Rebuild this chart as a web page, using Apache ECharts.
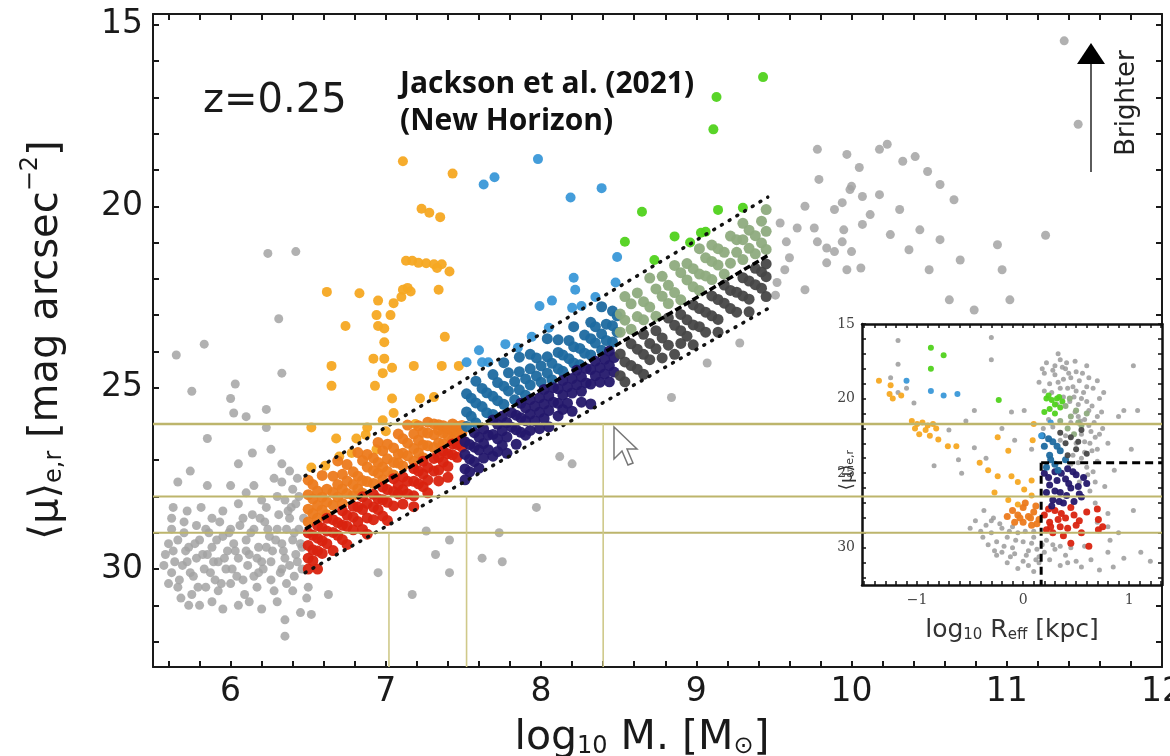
<!DOCTYPE html>
<html><head><meta charset="utf-8">
<script src="https://cdn.jsdelivr.net/npm/echarts@6/dist/echarts.min.js"></script>
<style>html,body{margin:0;padding:0;background:#fff}#c{width:1170px;height:756px}</style>
</head><body><div id="c"></div>
<script>
// ---------- tick labels ----------
const xTickLabels = [6, 7, 8, 9, 10, 11, 12];
const yTickLabels = [15, 20, 25, 30];
const insetXTickLabels = [-1, 0, 1];
const insetYTickLabels = [15, 20, 25, 30];

// ---------- main panel data [log10 M*, <mu>e,r] ----------
const grayMain = [
 [5.62,28.9],[5.70,29.0],[5.78,28.8],[5.86,29.0],[5.93,28.7],[6.00,28.9],[6.08,28.6],[6.15,28.9],[6.22,28.7],[6.30,28.9],[6.38,28.6],[6.44,28.9],
 [5.60,29.3],[5.66,29.2],[5.73,29.4],[5.80,29.2],[5.88,29.4],[5.95,29.1],[6.02,29.3],[6.10,29.2],[6.18,29.4],[6.25,29.1],[6.33,29.3],[6.40,29.2],[6.46,29.4],
 [5.58,29.6],[5.64,29.8],[5.71,29.5],[5.78,29.7],[5.85,29.6],[5.92,29.8],[5.98,29.5],[6.05,29.7],[6.12,29.6],[6.20,29.8],[6.27,29.5],[6.35,29.7],[6.42,29.6],
 [5.62,30.1],[5.69,29.9],[5.76,30.2],[5.83,30.0],[5.90,30.3],[5.97,30.0],[6.04,30.2],[6.11,29.9],[6.18,30.1],[6.26,30.3],[6.33,30.0],[6.41,30.2],
 [5.66,30.5],[5.75,30.7],[5.84,30.5],[5.92,30.6],[6.00,30.4],[6.09,30.7],[6.17,30.5],[6.28,30.6],[6.36,30.4],
 [5.73,31.0],[5.95,31.1],[6.05,31.0],[6.35,31.4],[6.45,31.2],[6.35,31.85],[6.52,31.25],
 [5.57,29.9],[5.60,30.4],[5.63,29.5],[5.67,30.3],[5.70,28.7],[5.72,29.8],[5.74,30.1],[5.77,29.3],[5.79,30.5],[5.82,29.6],[5.84,28.9],[5.87,30.1],
 [5.89,29.8],[5.91,29.2],[5.94,30.4],[5.96,29.7],[5.99,29.0],[6.01,30.0],[6.03,29.5],[6.06,28.8],[6.08,30.3],[6.10,29.5],[6.13,29.0],[6.15,30.2],
 [6.17,29.7],[6.19,28.6],[6.21,30.0],[6.23,29.4],[6.24,28.9],[6.26,29.8],[6.29,29.2],[6.31,28.5],[6.32,30.1],[6.34,29.5],[6.36,28.9],[6.38,29.9],
 [6.39,28.3],[6.41,29.0],[6.43,29.8],[6.44,28.0],[6.45,29.3],[6.47,28.6],[6.46,30.0],[6.40,30.6],[6.30,30.9],[6.20,31.1],[6.12,30.9],[5.88,30.9],
 [5.80,31.0],[5.68,30.8],[5.62,28.6],[5.72,28.4],[6.38,27.3],[6.43,27.5],[6.35,28.1],
 [5.63,28.3],[5.81,28.3],[5.88,28.6],[6.14,28.5],[6.23,28.3],[6.37,28.4],[6.42,28.2],[6.30,28.0],[6.20,28.1],[6.05,28.2],[5.95,28.4],[6.10,27.9],[6.33,27.6],
 [5.75,25.1],[6.03,24.9],[6.00,25.3],[6.02,25.7],[6.10,25.8],[6.23,25.6],[5.85,26.4],[6.23,26.1],[6.14,26.8],[6.26,26.7],[6.05,27.1],[5.74,27.3],[6.33,27.1],
 [5.66,27.6],[5.85,27.7],[6.00,27.7],[6.15,27.7],[6.28,27.5],[6.40,27.8],[5.65,24.1],[5.83,23.8],[6.24,21.3],[6.42,21.25],[6.31,23.1],[6.33,24.6],
 [7.26,28.95],[7.97,28.3],[7.73,29.0],[8.20,27.1],[8.12,26.9],[7.41,29.2],[7.32,29.6],[7.41,30.1],[7.62,29.7],[7.75,29.8],[6.95,30.1],[7.17,30.7],
 [6.63,30.7],[6.50,30.5],[6.49,30.8],[8.84,25.27],[9.07,24.32],[9.28,23.77],
 [9.70,20.0],[9.54,20.46],[9.58,20.98],[9.65,20.6],[9.76,20.6],[9.78,20.98],[9.84,21.15],[9.89,21.25],[9.94,19.9],[10.0,19.45],[10.07,19.73],[10.07,20.5],
 [9.94,20.98],[10.0,21.25],[9.97,21.75],[9.84,21.56],[10.06,21.7],[9.60,21.42],[9.57,21.75],[9.52,22.1],[9.51,22.45],[9.70,22.3],
 [9.78,18.43],[9.97,18.57],[10.05,18.93],[10.18,18.43],[10.23,18.29],[10.33,18.76],[10.41,18.63],[10.49,19.04],[10.57,19.4],[10.66,19.82],[10.18,19.68],
 [10.31,20.09],[10.44,20.65],[10.57,20.92],[10.70,21.48],[9.99,19.54],[10.12,20.23],[10.25,20.78],[10.37,21.2],[10.50,21.75],[9.95,20.65],[9.79,19.26],
 [9.89,20.09],[10.94,21.06],[10.97,21.75],[11.25,20.8],[10.63,22.58],[10.79,22.86],[11.02,22.58],[11.37,15.44],[11.46,17.74]
];
const lightOrange = [
 [7.11,18.76],[7.43,19.1],[7.23,20.07],[7.28,20.18],[7.35,20.3],[7.13,21.5],[7.17,21.5],[7.21,21.56],[7.26,21.57],[7.31,21.6],[7.36,21.6],[7.41,21.8],
 [7.33,21.7],[6.62,22.36],[6.83,22.4],[6.95,22.6],[7.05,22.67],[7.10,22.5],[7.14,22.25],[7.16,22.35],[7.11,22.3],[7.34,22.3],[6.94,23.0],[7.03,23.0],
 [6.74,23.3],[6.95,23.3],[6.99,23.37],[6.99,23.75],[7.38,23.6],[6.65,24.4],[6.92,24.2],[6.99,24.2],[7.04,24.45],[6.98,24.6],[7.18,24.4],[7.36,24.4],
 [7.47,24.4],[6.65,24.95],[6.93,24.95],[7.04,25.3],[7.22,25.3],[7.31,25.26],[7.05,25.7],[6.98,25.9],[6.52,26.1],[6.88,26.1],[7.00,26.2],[7.19,26.0],
 [6.68,26.4],[6.81,26.4],[6.87,26.3],[6.70,26.9],[6.78,26.8],[6.94,26.7],[6.52,27.2],[6.61,27.15]
];
const orange = [
 [6.50,28.70],[6.50,28.35],[6.50,27.95],[6.50,27.55],[6.53,28.47],[6.53,28.07],[6.53,27.67],[6.56,28.60],[6.56,28.25],[6.56,27.85],
 [6.59,28.37],[6.59,28.02],[6.59,27.42],[6.62,28.50],[6.62,28.15],[6.62,27.80],[6.66,28.24],[6.66,27.89],[6.66,27.44],
 [6.69,28.02],[6.69,27.67],[6.69,27.02],[6.72,28.19],[6.72,27.79],[6.72,27.39],[6.75,27.92],[6.75,27.57],[6.75,27.12],
 [6.79,27.97],[6.79,27.67],[6.79,27.32],[6.82,27.79],[6.82,27.44],[6.82,26.79],[6.85,27.91],[6.85,27.56],[6.85,27.01],
 [6.88,27.59],[6.88,27.19],[6.88,26.84],[6.92,27.64],[6.92,27.29],[6.92,26.94],[6.95,27.36],[6.95,27.06],[6.95,26.51],
 [6.98,27.54],[6.98,27.19],[6.98,26.74],[7.01,27.31],[7.01,26.96],[7.01,26.56],[7.05,27.41],[7.05,27.06],[7.05,26.66],
 [7.08,27.08],[7.08,26.83],[7.08,26.28],[7.11,27.16],[7.11,26.81],[7.11,26.41],[7.14,26.88],[7.14,26.53],[7.14,26.03],
 [7.18,27.03],[7.18,26.68],[7.18,26.28],[7.21,26.80],[7.21,26.45],[7.21,26.05],[7.24,26.93],[7.24,26.58],[7.24,26.23],
 [7.27,26.60],[7.27,26.25],[7.27,25.95],[7.31,26.65],[7.31,26.30],[7.31,26.00],[7.34,26.52],[7.34,26.17],[7.34,26.02],
 [7.37,26.55],[7.37,26.25],[7.37,26.05],[7.40,26.32],[7.40,26.12],[7.43,26.45],[7.43,26.20],[7.43,26.00],[7.46,26.27],[7.46,26.07],
 [7.49,26.24],[7.49,26.04]
];
const red = [
 [6.50,29.00],[6.50,29.35],[6.50,29.70],[6.50,30.00],[6.53,29.07],[6.53,29.47],[6.53,29.77],[6.56,28.80],[6.56,29.15],[6.56,29.50],[6.56,30.00],
 [6.59,28.87],[6.59,29.22],[6.59,29.57],[6.62,28.60],[6.62,28.95],[6.62,29.30],[6.66,28.64],[6.66,28.99],[6.66,29.49],[6.69,28.72],[6.69,29.07],
 [6.72,28.39],[6.72,28.79],[6.72,29.19],[6.75,28.52],[6.75,28.82],[6.75,29.32],[6.79,28.27],[6.79,28.57],[6.79,28.92],[6.82,28.29],[6.82,28.69],
 [6.85,28.01],[6.85,28.36],[6.85,28.91],[6.88,28.19],[6.88,28.59],[6.88,29.04],[6.92,27.94],[6.92,28.29],[6.92,28.64],[6.95,28.06],[6.95,28.36],
 [6.98,27.74],[6.98,28.09],[6.98,28.54],[7.01,27.81],[7.01,28.16],[7.01,28.66],[7.05,27.51],[7.05,27.86],[7.05,28.26],[7.08,27.68],[7.08,27.93],
 [7.11,27.46],[7.11,27.81],[7.11,28.21],[7.14,27.58],[7.14,27.93],[7.18,27.23],[7.18,27.58],[7.18,27.98],[7.18,28.28],[7.21,27.30],[7.21,27.65],
 [7.24,27.03],[7.24,27.38],[7.24,27.73],[7.27,27.20],[7.27,27.55],[7.27,27.90],[7.31,26.95],[7.31,27.30],[7.34,26.92],[7.34,27.27],[7.34,27.57],
 [7.37,26.75],[7.37,27.05],[7.40,26.82],[7.40,27.17],[7.40,27.47],[7.43,26.55],[7.43,26.85],[7.46,26.57],[7.46,26.92],[7.49,26.44],[7.49,26.64]
];
const lightBlue = [
 [7.63,19.4],[7.70,19.2],[7.98,18.7],[8.39,19.5],[8.19,19.76],[8.49,21.4],[8.21,21.97],[8.22,22.3],[8.48,22.1],[7.99,22.75],[8.07,22.6],[8.20,22.8],
 [8.26,22.75],[7.94,23.6],[8.05,23.35],[7.77,23.8],[7.60,23.97],[7.62,24.3],[7.66,24.3],[7.52,24.3],[7.85,23.9],[8.35,22.5]
];
const darkBlue = [
 [7.52,26.07],[7.52,25.67],[7.52,25.17],[7.55,25.79],[7.55,25.29],[7.58,25.97],[7.58,25.42],[7.58,24.82],[7.62,25.52],[7.62,25.02],
 [7.65,25.69],[7.65,25.14],[7.69,25.74],[7.69,25.24],[7.69,24.64],[7.72,25.36],[7.72,24.86],[7.76,25.46],[7.76,24.96],[7.76,24.31],
 [7.79,25.09],[7.79,24.59],[7.83,25.33],[7.83,24.83],[7.86,25.06],[7.86,24.56],[7.86,24.16],[7.90,25.21],[7.90,24.76],[7.93,24.93],
 [7.93,24.48],[7.93,24.08],[7.97,24.68],[7.97,24.18],[8.00,24.85],[8.00,24.40],[8.04,24.60],[8.04,24.15],[8.04,23.65],[8.07,24.78],
 [8.07,24.33],[8.11,24.48],[8.11,24.03],[8.11,23.68],[8.14,24.55],[8.14,24.10],[8.18,24.20],[8.18,23.70],[8.21,24.32],[8.21,23.87],
 [8.21,23.32],[8.25,24.37],[8.25,23.92],[8.28,24.05],[8.28,23.55],[8.32,24.10],[8.32,23.65],[8.32,23.20],[8.35,23.77],[8.35,23.32],
 [8.39,23.97],[8.39,23.52],[8.39,22.77],[8.42,23.70],[8.42,23.25],[8.46,23.74],[8.46,23.29],[8.46,22.89],[8.49,23.47],[8.49,23.02]
];
const navy = [
 [7.51,26.49],[7.51,26.84],[7.51,27.24],[7.51,27.54],[7.54,26.57],[7.54,26.97],[7.54,27.32],[7.57,26.24],[7.57,26.64],[7.57,27.04],
 [7.60,26.37],[7.60,26.72],[7.60,27.22],[7.63,26.14],[7.63,26.54],[7.63,26.94],[7.66,26.31],[7.66,26.71],[7.69,25.89],[7.69,26.29],[7.69,26.89],
 [7.72,26.01],[7.72,26.41],[7.72,26.76],[7.75,25.79],[7.75,26.19],[7.75,26.59],[7.78,25.96],[7.78,26.36],[7.78,26.81],[7.81,25.69],[7.81,26.09],
 [7.84,25.76],[7.84,26.16],[7.84,26.56],[7.87,25.43],[7.87,25.83],[7.87,26.23],[7.90,25.56],[7.90,25.91],[7.90,26.31],[7.93,25.33],[7.93,25.73],
 [7.93,26.18],[7.96,25.51],[7.96,25.91],[7.99,25.28],[7.99,25.68],[7.99,26.13],[8.02,25.05],[8.02,25.45],[8.02,25.85],[8.05,25.23],[8.05,25.63],
 [8.05,26.08],[8.08,25.00],[8.08,25.40],[8.11,25.03],[8.11,25.43],[8.11,25.78],[8.14,24.80],[8.14,25.20],[8.14,25.60],[8.17,24.98],[8.17,25.43],
 [8.20,24.75],[8.20,25.15],[8.20,25.65],[8.23,24.52],[8.23,24.92],[8.26,24.70],[8.26,25.10],[8.26,25.40],[8.29,24.47],[8.29,24.87],[8.32,24.50],
 [8.32,24.90],[8.32,25.45],[8.35,24.27],[8.35,24.67],[8.38,24.45],[8.38,24.85],[8.41,24.22],[8.41,24.62],[8.44,23.99],[8.44,24.39],[8.44,24.84],
 [8.47,24.17],[8.47,24.57]
];
const green = [
 [9.43,16.44],[9.13,16.99],[9.11,17.88],[8.65,20.15],[9.14,20.1],[9.30,20.04],[8.54,20.98],[8.86,20.83],[9.03,20.73],[9.06,20.7],[8.96,21.0],[8.73,21.48]
];
const sage = [
 [8.51,23.47],[8.51,22.97],[8.54,23.14],[8.54,22.49],[8.58,23.39],[8.58,22.69],[8.62,23.04],[8.62,22.39],[8.66,23.13],[8.66,22.63],
 [8.70,22.78],[8.70,21.98],[8.74,23.03],[8.74,22.28],[8.78,22.48],[8.78,21.93],[8.82,22.68],[8.82,22.18],[8.86,22.38],[8.86,21.63],
 [8.90,22.58],[8.90,21.83],[8.94,22.03],[8.94,21.58],[8.98,22.22],[8.98,21.72],[9.02,22.32],[9.02,21.87],[9.02,21.17],[9.06,21.92],
 [9.06,21.42],[9.10,22.02],[9.10,21.52],[9.10,21.07],[9.14,21.62],[9.14,21.17],[9.18,21.87],[9.18,21.27],[9.22,21.57],[9.22,20.82],
 [9.26,21.27],[9.26,20.92],[9.30,21.47],[9.30,20.92],[9.30,20.47],[9.34,21.16],[9.34,20.66],[9.38,21.31],[9.38,20.81],[9.42,21.01],
 [9.42,20.41],[9.45,21.19],[9.45,20.69],[9.45,20.09]
];
const darkGray = [
 [8.51,24.07],[8.51,24.67],[8.54,24.29],[8.54,24.84],[8.58,23.79],[8.58,24.39],[8.62,23.94],[8.62,24.49],[8.66,23.53],[8.66,24.08],[8.66,24.63],
 [8.70,23.78],[8.70,24.23],[8.74,23.43],[8.74,23.93],[8.78,23.63],[8.78,24.18],[8.82,23.08],[8.82,23.83],[8.86,23.28],[8.86,24.08],
 [8.90,22.98],[8.90,23.43],[8.90,23.78],[8.94,23.13],[8.94,23.58],[8.98,22.72],[8.98,23.27],[8.98,23.82],[9.02,22.82],[9.02,23.32],
 [9.06,22.92],[9.06,23.47],[9.10,22.47],[9.10,23.02],[9.14,22.57],[9.14,23.12],[9.14,23.47],[9.18,22.17],[9.18,22.67],[9.22,22.32],
 [9.22,22.82],[9.26,22.37],[9.26,22.92],[9.30,21.97],[9.30,22.47],[9.34,22.06],[9.34,22.56],[9.34,22.91],[9.38,21.71],[9.38,22.16],
 [9.42,21.81],[9.42,22.26],[9.45,21.59],[9.45,21.94],[9.45,22.49]
];
// guide lines (end points)
const upperLine = [[6.48,27.43],[9.46,19.75]];
const centerLine = [[6.48,28.9],[9.46,21.36]];
const lowerLine = [[6.48,30.1],[9.47,22.8]];
const oliveH = [26, 28, 29];
const oliveV = [[7.02,29],[7.52,28],[8.40,26]];

// ---------- inset data [log10 Reff, <mu>e,r] ----------
const insetGray = [
 [-1.18,16.1],[-0.30,15.9],[-0.30,17.4],[-1.18,17.7],[-1.18,19.6],[-1.03,20.3],[-0.46,20.8],[-0.54,21.5],[-0.11,20.9],[0.01,20.8],[-0.70,22.1],
 [-0.61,24.1],[-0.84,24.5],[-0.46,23.3],[-0.08,22.8],[0.08,23.4],[-0.58,25.0],[1.04,17.8],[0.95,20.8],[1.08,20.8],[0.90,21.2],[1.02,23.4],
 [0.86,24.8],[0.77,25.9],[1.04,27.5],[0.80,27.7],[0.80,28.6],[0.82,29.5],[0.80,30.3],[1.11,30.3],[0.58,29.9],[0.64,30.8],[0.72,31.5],[-0.37,27.5],
 [-0.30,28.2],[-1.25,18.6],[-1.10,19.3],[-0.20,22.0],[-0.35,24.0],
 [-0.35,28.5],[-0.30,29.0],[-0.25,29.6],[-0.20,28.7],[-0.15,29.3],[-0.10,30.0],[-0.05,29.0],[0.00,29.6],[0.05,30.2],[0.10,29.3],[0.15,30.6],
 [-0.20,30.3],[0.00,30.9],[-0.10,28.6],[0.10,28.9],[0.18,29.8],[-0.28,28.0],[-0.12,30.6],[0.05,31.2],[0.15,31.0],[-0.40,28.9],[-0.25,30.5],
 [0.20,30.3],[0.25,30.8],[0.30,30.1],[0.40,30.5],[0.50,30.9],[-0.05,31.4],[0.10,31.6],[0.35,31.2],[0.55,31.3],[0.45,30.0],
 [-0.38,29.3],[-0.33,29.8],[-0.27,30.2],[-0.18,29.9],[-0.13,28.9],[-0.07,29.5],[0.02,28.9],[0.08,29.7],[0.13,30.1],[-0.22,28.4],[-0.08,30.4],
 [0.03,30.5],[0.12,30.8],[-0.15,31.0],[0.22,29.5],[0.28,29.8],[0.35,29.9],[0.42,31.0],[-0.45,28.2],[-0.50,28.7],
 [0.20,18.3],[0.30,17.8],[0.40,18.0],[0.45,18.6],[0.25,19.0],[0.35,19.3],[0.50,19.5],[0.55,20.0],[0.60,19.2],[0.65,20.5],[0.70,21.2],[0.62,21.8],
 [0.68,22.6],[0.58,22.9],[0.65,23.5],[0.55,24.0],[0.60,24.6],[0.70,24.2],[0.38,18.7],[0.48,19.9],[0.42,19.3],[0.52,20.4],[0.58,21.4],[0.64,22.2],
 [0.30,18.4],[0.20,19.5],[0.15,18.9],[0.35,17.4],[0.50,18.2],[0.72,20.0],[0.75,22.0],[0.80,23.0],[0.45,21.6],[0.40,22.5],[0.50,23.0],[0.55,22.4],
 [0.62,20.8],[0.52,21.2],[0.47,23.8],[0.66,24.9],[0.57,25.3],[0.63,26.2],[0.68,27.0],[0.70,28.3],[0.90,29.0],[0.95,30.7],[0.85,31.3],[1.20,30.9],
 [0.22,17.6],[0.28,18.1],[0.33,18.9],[0.37,17.9],[0.43,18.3],[0.47,19.2],[0.53,18.8],[0.57,19.6],[0.62,18.6],[0.27,19.6],[0.32,20.4],[0.38,19.9],
 [0.44,20.2],[0.49,20.9],[0.54,21.5],[0.60,20.2],[0.67,21.6],[0.72,22.4],[0.63,23.0],[0.58,23.6],[0.52,24.3],[0.61,25.1],[0.68,25.6],[0.70,23.4],
 [0.66,19.3],[0.74,20.9],[0.56,18.3],[0.41,17.6],[0.18,18.0],[0.24,21.4],[0.19,22.0],[0.45,24.4],[0.53,25.6],[0.35,22.8],[0.28,21.9],[0.49,17.5],
 [0.33,17.0],[0.60,17.8],[0.70,18.8],[0.76,19.6]
];
const insetLightOrange = [
 [-1.36,18.8],[-1.25,19.1],[-1.26,19.7],[-1.15,19.8],[-1.23,20.0],[-1.05,21.5],[-1.00,21.7],[-0.95,21.6],[-0.90,21.8],[-0.85,21.7],[-1.02,22.0],
 [-0.92,22.1],[-0.82,22.0],[-0.98,22.4],[-0.88,22.5],[-0.80,22.75],[-0.71,23.2],[-0.63,23.2],[-0.24,22.6],[-0.14,23.5],[0.10,21.7],[0.09,22.8],
 [-0.41,24.3],[-0.33,24.8],[-0.24,25.2],[-0.11,25.2],[-0.05,25.6],[0.01,26.1],[0.08,26.5],[-0.27,26.3],[-0.14,26.8],[-0.05,27.1],[0.08,25.5]
];
const insetOrange = [[-0.10,27.5],[-0.05,27.8],[0.00,27.3],[0.05,27.9],[0.10,27.6],[0.15,28.1],[0.00,28.3],[0.08,28.5],[-0.03,28.0],[0.12,27.2],
 [-0.15,27.9],[0.02,27.0],[0.07,28.0],[0.13,28.4],[-0.08,28.3]];
const insetRed = [
 [0.20,27.8],[0.25,28.3],[0.30,27.5],[0.35,28.6],[0.40,28.0],[0.45,27.3],[0.50,28.5],[0.55,29.0],[0.28,29.0],[0.22,28.8],[0.38,29.2],[0.60,27.6],
 [0.70,27.4],[0.75,28.6],[0.62,29.9],[0.71,28.1],[0.71,28.8],[0.45,29.7],[0.24,27.4],[0.33,28.1],[0.42,28.7],[0.48,27.8],[0.53,28.2],[0.26,28.6],[0.36,27.7]
];
const insetNavy = [
 [0.20,25.0],[0.25,25.8],[0.30,24.9],[0.35,26.3],[0.40,25.4],[0.45,26.0],[0.50,25.1],[0.55,26.6],[0.28,26.8],[0.38,27.0],[0.48,26.9],[0.60,25.7],
 [0.22,26.3],[0.42,24.7],[0.32,25.5],[0.52,25.9],[0.24,25.3],[0.30,26.2],[0.36,25.0],[0.43,25.7],[0.47,24.9],[0.53,26.4],[0.27,27.2],[0.41,26.5],
 [0.57,25.3],[0.34,26.9]
];
const insetDarkBlue = [[0.20,23.2],[0.25,23.8],[0.30,24.4],[0.22,24.6],[0.35,23.5],[0.28,22.9],[0.40,24.1],[0.33,24.8],[0.18,22.5],[0.26,24.1],[0.32,23.2],[0.24,22.7]];
const insetLightBlue = [[-1.10,18.8],[-0.87,19.5],[-0.75,19.8],[-0.62,19.7],[0.17,22.5],[0.26,21.6]];
const insetGreen = [[-0.87,16.6],[-0.75,17.1],[-0.87,18.0],[-0.23,20.1],[0.22,20.0],[0.27,20.1],[0.32,20.0],[0.37,20.2],[0.25,20.7],[0.30,21.0],
 [0.35,20.6],[0.20,20.9],[0.24,19.8],[0.30,20.4],[0.34,19.9]];
const insetSage = [[0.40,20.5],[0.45,21.2],[0.50,20.8],[0.55,21.8],[0.42,22.0],[0.48,22.4],[0.35,21.5],[0.60,21.0],[0.44,20.0],[0.52,21.6]];
const insetDarkGray = [[0.35,22.3],[0.40,23.0],[0.45,22.6],[0.50,23.4],[0.55,22.1],[0.60,23.7],[0.42,23.8],[0.52,22.9]];
const insetDashH = [[0.17,24.3],[1.31,24.3]];
const insetDashV = [[0.17,24.3],[0.17,32.5]];

// ---------- build ----------
const FONT = 'DejaVu Sans';
const rng = (a, b, s) => { const r = []; for (let v = a; v <= b + 1e-9; v += s) r.push(+v.toFixed(3)); return r; };
const mainXTicks = rng(5.6, 11.8, 0.2);
const mainYTicks = rng(15, 32, 1);
const insetXTicks = rng(-1.5, 1.3, 0.1);
const insetYTicks = rng(15, 32, 1);

function axisBase(extra) {
  return Object.assign({
    type: 'value', splitLine: {show: false},
    axisLine: {show: true, onZero: false, lineStyle: {color: '#1a1a1a', width: 2}},
  }, extra);
}
const main = {left: 153, top: 14, width: 1009, height: 653};
const inset = {left: 862, top: 324, width: 300, height: 261};

const xAxes = [
  axisBase({gridIndex: 0, min: 5.5, max: 12, position: 'bottom',
    axisTick: {inside: true, length: 6, customValues: mainXTicks, lineStyle: {color: '#1a1a1a', width: 2}},
    axisLabel: {customValues: xTickLabels, fontSize: 33, fontFamily: FONT, color: '#1a1a1a', margin: 9}}),
  axisBase({gridIndex: 0, min: 5.5, max: 12, position: 'top',
    axisTick: {inside: true, length: 6, customValues: mainXTicks, lineStyle: {color: '#1a1a1a', width: 2}},
    axisLabel: {show: false}}),
  axisBase({gridIndex: 1, min: -1.52, max: 1.31, position: 'bottom', z: 6,
    axisLine: {show: true, onZero: false, lineStyle: {color: '#111', width: 2.5}},
    axisTick: {inside: true, length: 4, customValues: insetXTicks, lineStyle: {color: '#111', width: 1.5}},
    axisLabel: {customValues: insetXTickLabels, fontSize: 14, fontFamily: 'DejaVu Serif', color: '#444', margin: 8,
      formatter: v => (v < 0 ? '\u2212' + Math.abs(v) : String(v))}}),
  axisBase({gridIndex: 1, min: -1.52, max: 1.31, position: 'top', z: 6,
    axisLine: {show: true, onZero: false, lineStyle: {color: '#111', width: 2.5}},
    axisTick: {inside: true, length: 4, customValues: insetXTicks, lineStyle: {color: '#111', width: 1.5}},
    axisLabel: {show: false}})
];
const yAxes = [
  axisBase({gridIndex: 0, min: 14.7, max: 32.7, inverse: true, position: 'left',
    axisTick: {inside: true, length: 6, customValues: mainYTicks, lineStyle: {color: '#1a1a1a', width: 2}},
    axisLabel: {customValues: yTickLabels, fontSize: 33, fontFamily: FONT, color: '#1a1a1a', margin: 10}}),
  axisBase({gridIndex: 0, min: 14.7, max: 32.7, inverse: true, position: 'right',
    axisTick: {inside: true, length: 6, customValues: mainYTicks, lineStyle: {color: '#1a1a1a', width: 2}},
    axisLabel: {show: false}}),
  axisBase({gridIndex: 1, min: 15, max: 32.5, inverse: true, position: 'left', z: 6,
    axisLine: {show: true, onZero: false, lineStyle: {color: '#111', width: 2.5}},
    axisTick: {inside: true, length: 4, customValues: insetYTicks, lineStyle: {color: '#111', width: 1.5}},
    axisLabel: {customValues: insetYTickLabels, fontSize: 14, fontFamily: 'DejaVu Serif', color: '#444', margin: 7}}),
  axisBase({gridIndex: 1, min: 15, max: 32.5, inverse: true, position: 'right', z: 6,
    axisLine: {show: true, onZero: false, lineStyle: {color: '#111', width: 2.5}},
    axisTick: {inside: true, length: 4, customValues: insetYTicks, lineStyle: {color: '#111', width: 1.5}},
    axisLabel: {show: false}})
];

function sc(data, color, size, xi, yi, z, op) {
  return {type: 'scatter', xAxisIndex: xi, yAxisIndex: yi, data: data, symbol: 'circle', symbolSize: size,
    itemStyle: {color: color, opacity: op == null ? 0.95 : op}, z: z, silent: true};
}
function ln(data, color, width, type, xi, yi, z, cap) {
  return {type: 'line', xAxisIndex: xi, yAxisIndex: yi, data: data, symbol: 'none', z: z, silent: true,
    lineStyle: {color: color, width: width, type: type, cap: cap || 'butt'}};
}
const C = {gray: '#a3a3a3', lo: '#f6a822', or: '#ec7a1c', red: '#d9230f', lb: '#3a98d8', db: '#1d6aa0',
  navy: '#24186b', green: '#50d21c', sage: '#8eab7e', dg: '#474747'};

const series = [
  sc(grayMain, C.gray, 9, 0, 0, 2, 0.85),
  sc(lightOrange, C.lo, 10, 0, 0, 2),
  sc(orange, C.or, 11, 0, 0, 2),
  sc(red, C.red, 11, 0, 0, 2),
  sc(lightBlue, C.lb, 10, 0, 0, 2),
  sc(darkBlue, C.db, 11, 0, 0, 2),
  sc(navy, C.navy, 11, 0, 0, 2),
  sc(green, C.green, 10, 0, 0, 2),
  sc(sage, C.sage, 11, 0, 0, 2),
  sc(darkGray, C.dg, 11, 0, 0, 2),
  ln(upperLine, '#111', 3.5, [1, 8], 0, 0, 3, 'round'),
  ln(lowerLine, '#111', 3.5, [1, 8], 0, 0, 3, 'round'),
  ln(centerLine, '#000', 3.5, [7, 3], 0, 0, 3),
  // inset
  sc(insetGray, '#9a9a9a', 5, 2, 2, 5, 0.85),
  sc(insetLightOrange, C.lo, 6, 2, 2, 5),
  sc(insetOrange, C.or, 7, 2, 2, 5),
  sc(insetRed, C.red, 7, 2, 2, 5),
  sc(insetNavy, C.navy, 7, 2, 2, 5),
  sc(insetDarkBlue, C.db, 7, 2, 2, 5),
  sc(insetLightBlue, C.lb, 6, 2, 2, 5),
  sc(insetGreen, C.green, 6, 2, 2, 5),
  sc(insetSage, C.sage, 6, 2, 2, 5),
  sc(insetDarkGray, C.dg, 6, 2, 2, 5),
  ln(insetDashH, '#000', 3, [8, 5], 2, 2, 6),
  ln(insetDashV, '#000', 3, [8, 5], 2, 2, 6)
];
oliveH.forEach((v, i) => series.push(ln([[5.5, v], [12, v]], '#bdb56c', i === 0 ? 2.5 : 2, 'solid', 0, 0, 8)));
oliveV.forEach(p => series.push(ln([[p[0], p[1]], [p[0], 32.7]], '#cfc98a', 1.6, 'solid', 0, 0, 8)));

const graphic = [
  {type: 'rect', shape: {x: inset.left, y: inset.top, width: inset.width, height: inset.height}, style: {fill: '#fff'}, z: 4, silent: true},
  {type: 'text', x: 203, y: 82, style: {text: 'z=0.25', font: '40px "DejaVu Sans"', fill: '#1a1a1a', textVerticalAlign: 'alphabetic'}, z: 10},
  {type: 'text', x: 400, y: 69, style: {text: 'Jackson et al. (2021)', font: 'bold 30px "Open Sans"', fill: '#111', textVerticalAlign: 'alphabetic'}, z: 10},
  {type: 'text', x: 400, y: 106, style: {text: '(New Horizon)', font: 'bold 30px "Open Sans"', fill: '#111', textVerticalAlign: 'alphabetic'}, z: 10},
  {type: 'line', shape: {x1: 1091, y1: 172, x2: 1091, y2: 60}, style: {stroke: '#333', lineWidth: 1.6}, z: 10},
  {type: 'polygon', shape: {points: [[1091, 43], [1077, 64], [1105, 64]]}, style: {fill: '#000'}, z: 10},
  {type: 'text', x: 1127, y: 103, rotation: Math.PI / 2,
    style: {text: 'Brighter', font: '26px "DejaVu Sans"', fill: '#222', align: 'center', verticalAlign: 'middle'}, z: 10},
  // cursor
  {type: 'polygon', x: 614, y: 427, shape: {points: [[0, 0], [0, 32], [8, 24], [14, 38], [19, 36], [13, 22], [23, 22]]},
    style: {fill: '#fff', stroke: '#777', lineWidth: 1.5}, z: 10},
  // x axis title
  {type: 'text', x: 642, y: 735, style: {
    text: '{a|log}{s|10}{a| M. [M}{s|\u2299}{a|]}', align: 'center', verticalAlign: 'middle',
    rich: {a: {fontSize: 41, fontFamily: FONT, fill: '#1a1a1a', verticalAlign: 'bottom', lineHeight: 48},
           s: {fontSize: 24, fontFamily: FONT, fill: '#1a1a1a', verticalAlign: 'bottom', lineHeight: 24}}}, z: 10},
  // y axis title
  {type: 'text', x: 43, y: 340, rotation: Math.PI / 2, style: {
    text: '{a|\u27E8\u03BC\u27E9}{s|e,r}{a| [mag arcsec}{p|\u22122}{a|]}', align: 'center', verticalAlign: 'middle',
    rich: {a: {fontSize: 40, fontFamily: FONT, fill: '#1a1a1a', verticalAlign: 'bottom', lineHeight: 48},
           s: {fontSize: 24, fontFamily: FONT, fill: '#1a1a1a', verticalAlign: 'bottom', lineHeight: 24},
           p: {fontSize: 24, fontFamily: FONT, fill: '#1a1a1a', verticalAlign: 'top', lineHeight: 24}}}, z: 10},
  // inset titles
  {type: 'text', x: 1012, y: 628, style: {
    text: '{a|log}{s|10}{a| R}{s|eff}{a| [kpc]}', align: 'center', verticalAlign: 'middle',
    rich: {a: {fontSize: 25, fontFamily: FONT, fill: '#333', verticalAlign: 'bottom', lineHeight: 30},
           s: {fontSize: 15, fontFamily: FONT, fill: '#333', verticalAlign: 'bottom', lineHeight: 15}}}, z: 10},
  {type: 'text', x: 845, y: 470, rotation: Math.PI / 2, style: {
    text: '{a|\u27E8\u03BC\u27E9}{s|e,r}', align: 'center', verticalAlign: 'middle',
    rich: {a: {fontSize: 18, fontFamily: FONT, fill: '#333', verticalAlign: 'bottom', lineHeight: 22},
           s: {fontSize: 11, fontFamily: FONT, fill: '#333', verticalAlign: 'bottom', lineHeight: 11}}}, z: 10}
];

const chart = echarts.init(document.getElementById('c'), null, {renderer: 'canvas'});
chart.setOption({
  animation: false,
  backgroundColor: '#fff',
  grid: [Object.assign({containLabel: false, outerBoundsMode: 'none'}, main),
         Object.assign({containLabel: false, outerBoundsMode: 'none'}, inset)],
  xAxis: xAxes,
  yAxis: yAxes,
  series: series,
  graphic: graphic
});
</script></body></html>
